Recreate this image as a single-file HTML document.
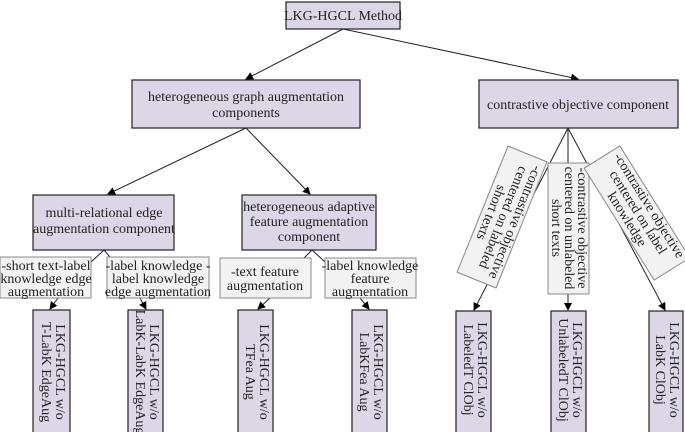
<!DOCTYPE html>
<html><head><style>body{margin:0;background:#fff}svg{display:block}</style></head><body>
<svg width="685" height="432" viewBox="0 0 685 432" font-family="Liberation Serif, Times New Roman, serif" font-size="14" style="font-family:'Liberation Serif',serif">
<defs><marker id="a" markerWidth="8" markerHeight="8" refX="7" refY="4" orient="auto" markerUnits="userSpaceOnUse"><path d="M0,0L8,4L0,8z" fill="#000"/></marker></defs>
<g stroke="#222" stroke-width="1" fill="none">
<line x1="343" y1="29" x2="246" y2="79" marker-end="url(#a)"/>
<line x1="343" y1="29" x2="578" y2="79" marker-end="url(#a)"/>
<line x1="246" y1="128" x2="108" y2="194" marker-end="url(#a)"/>
<line x1="246" y1="128" x2="310" y2="194" marker-end="url(#a)"/>
<line x1="104" y1="250" x2="90" y2="263"/><line x1="104" y1="250" x2="115" y2="263"/>
<line x1="312" y1="250" x2="300" y2="262"/><line x1="312" y1="250" x2="325" y2="262"/>
<line x1="58" y1="298" x2="50" y2="309" marker-end="url(#a)"/>
<line x1="140" y1="298" x2="146" y2="309" marker-end="url(#a)"/>
<line x1="270" y1="298" x2="258" y2="309" marker-end="url(#a)"/>
<line x1="360" y1="298" x2="369" y2="309" marker-end="url(#a)"/>
<line x1="568" y1="128" x2="474" y2="310" marker-end="url(#a)"/>
<line x1="568" y1="128" x2="568" y2="310" marker-end="url(#a)"/>
<line x1="568" y1="128" x2="665" y2="310" marker-end="url(#a)"/>
</g>
<g stroke="#222" stroke-width="1.2" fill="#dcd6e6">
<rect x="286" y="2" width="114" height="27"/>
<rect x="132" y="80" width="228" height="48"/>
<rect x="479" y="80" width="199" height="48"/>
<rect x="33" y="195" width="141" height="55"/>
<rect x="242" y="195" width="134" height="55"/>
<rect x="33" y="310" width="37" height="130"/>
<rect x="128" y="310" width="35" height="130"/>
<rect x="238" y="310" width="35" height="130"/>
<rect x="352" y="310" width="35" height="130"/>
<rect x="456" y="311" width="35" height="130"/>
<rect x="551" y="311" width="35" height="130"/>
<rect x="649" y="311" width="34" height="130"/>
</g>
<g stroke="#888" stroke-width="1" fill="#f2f2f2">
<rect x="0" y="257" width="91" height="41"/>
<rect x="107" y="257" width="102" height="41"/>
<rect x="220" y="258" width="91" height="40"/>
<rect x="325" y="258" width="91" height="40"/>
<rect x="548" y="163" width="41" height="131"/>
<g transform="translate(502,217) rotate(112)"><rect x="-68" y="-21" width="136" height="42"/></g>
<g transform="translate(637,213) rotate(58)"><rect x="-66" y="-21" width="132" height="42"/></g>
</g>
<g text-anchor="middle" fill="#222">
<text x="343" y="20">LKG-HGCL Method</text>
<text x="246" y="101">heterogeneous graph augmentation</text><text x="246" y="117">components</text>
<text x="104" y="217">multi-relational edge</text><text x="104" y="233">augmentation component</text>
<text x="309" y="211">heterogeneous adaptive</text><text x="309" y="226">feature augmentation</text><text x="309" y="241">component</text>
<text x="578" y="109">contrastive objective component</text>
<text x="46" y="270">-short text-label</text><text x="46" y="283">knowledge edge</text><text x="46" y="296">augmentation</text>
<text x="158" y="270">-label knowledge -</text><text x="158" y="283">label knowledge</text><text x="158" y="296">edge augmentation</text>
<text x="265" y="276">-text feature</text><text x="265" y="290">augmentation</text>
<text x="370" y="270">-label knowledge</text><text x="370" y="283">feature</text><text x="370" y="296">augmentation</text>
<g transform="translate(52,372) rotate(90)"><text x="0" y="-4">LKG-HGCL w/o</text><text x="0" y="10">T-LabK EdgeAug</text></g>
<g transform="translate(146,372) rotate(90)"><text x="0" y="-4">LKG-HGCL w/o</text><text x="0" y="10">LabK-LabK EdgeAug</text></g>
<g transform="translate(256,372) rotate(90)"><text x="0" y="-4">LKG-HGCL w/o</text><text x="0" y="10">TFea Aug</text></g>
<g transform="translate(370,372) rotate(90)"><text x="0" y="-4">LKG-HGCL w/o</text><text x="0" y="10">LabKFea Aug</text></g>
<g transform="translate(474,370) rotate(90)"><text x="0" y="-4">LKG-HGCL w/o</text><text x="0" y="10">LabeledT ClObj</text></g>
<g transform="translate(569,370) rotate(90)"><text x="0" y="-4">LKG-HGCL w/o</text><text x="0" y="10">UnlabeledT ClObj</text></g>
<g transform="translate(666,370) rotate(90)"><text x="0" y="-4">LKG-HGCL w/o</text><text x="0" y="10">LabK ClObj</text></g>
<g transform="translate(568,228) rotate(90)"><text x="0" y="-10">-contrastive objective</text><text x="0" y="3">centered on unlabeled</text><text x="0" y="16">short texts</text></g>
<g transform="translate(502,217) rotate(112)"><text x="0" y="-10">-contrastive objective</text><text x="0" y="3">centered on labeled</text><text x="0" y="16">short texts</text></g>
<g transform="translate(637,213) rotate(58)"><text x="0" y="-10">-contrastive objective</text><text x="0" y="3">centered on label</text><text x="0" y="16">knowledge</text></g>
</g>
</svg>
</body></html>
